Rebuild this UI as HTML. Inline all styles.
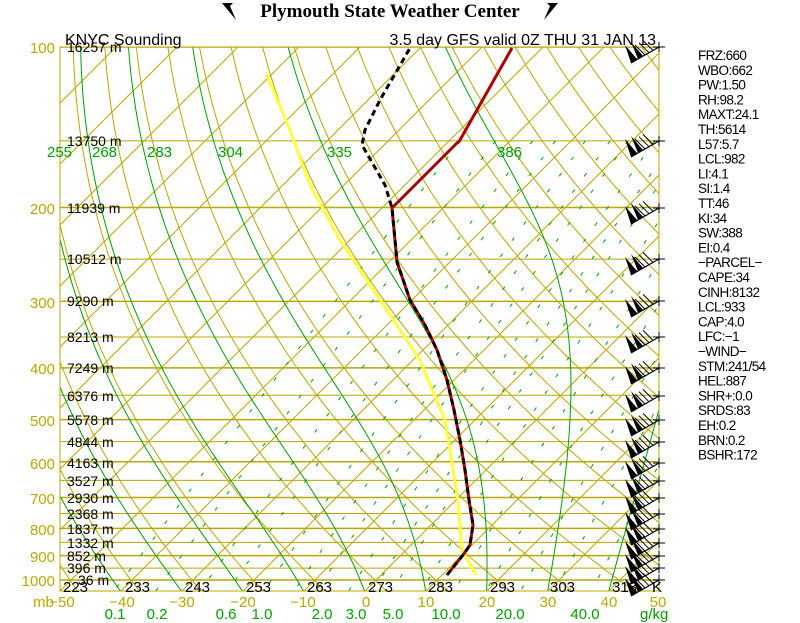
<!DOCTYPE html>
<html><head><meta charset="utf-8"><style>
html,body{margin:0;padding:0;background:#fff;width:800px;height:623px;overflow:hidden}
svg{display:block}
text{font-family:"Liberation Sans",sans-serif}
text.t{font-family:"Liberation Serif",serif;font-weight:bold}
</style></head><body>
<svg id="s" width="800" height="623" viewBox="0 0 800 623" xmlns="http://www.w3.org/2000/svg">
<defs><clipPath id="c"><rect x="60" y="47" width="599" height="544"/></clipPath></defs>
<g id="grid" clip-path="url(#c)"></g>
<rect x="60" y="47" width="599" height="544" fill="none" stroke="#b8a800" stroke-width="1"/>
<g id="snd" clip-path="url(#c)" fill="none" stroke-linejoin="round">
<polyline stroke="#ffff40" stroke-width="3" points="266,73 290,130 310,185 340,240 380,300 420,360 445,420 458,500 462,550 476,575"/>
<polyline stroke="#aa0000" stroke-width="3" points="447,575 463,555 470,545 473,525 469,500 465,470 460,440 454,410 447,380 437,350 425,325 410,300 397,262 392,208 460,140 512,48"/>
<polyline stroke="#000" stroke-width="3" stroke-dasharray="6,4" points="447,575 463,555 470,545 473,525 469,500 465,470 460,440 454,410 447,380 437,350 425,325 410,300 397,262 392,208 385,185 362,145 365,130 380,100 410,48"/>
</g>
<g id="barbs"></g>
<g id="lbl"></g>
<text class="t" x="390" y="17" text-anchor="middle" font-size="19">Plymouth State Weather Center</text>
<path d="M222,3 l11,0 l-3,3 l6,14 z" fill="#000"/>
<path d="M558,3 l-11,0 l3,3 l-6,14 z" fill="#000"/>
<text x="65" y="45" font-size="16">KNYC Sounding</text>
<text x="656" y="45" font-size="16" text-anchor="end">3.5 day GFS valid 0Z THU 31 JAN 13</text>
</svg>
<script>
var g=document.getElementById('grid'),L=document.getElementById('lbl'),B=document.getElementById('barbs');
var NS='http://www.w3.org/2000/svg';
function el(p,t,a,txt){var e=document.createElementNS(NS,t);for(var k in a)e.setAttribute(k,a[k]);if(txt!=null)e.textContent=txt;p.appendChild(e);return e;}
function Y(p){return 47+231.5*Math.log(p/100);}
function X(T,p){return 60+6.1*(T+50)+(591-Y(p));}
var OL='#b8a800',GR='#00a000';
for(var p=100;p<=1050;p+=50){var y=Y(p);el(g,'line',{x1:60,x2:659,y1:y,y2:y,stroke:OL,'stroke-width':(p%100==0?1.5:1)});}
for(var T=-150;T<=50;T+=10){el(g,'line',{x1:X(T,1050),y1:Y(1050),x2:X(T,100),y2:Y(100),stroke:OL,'stroke-width':1});}
function pts(f){var s='';for(var p=100;p<=1060;p+=10){var T=f(p);s+=X(T,p).toFixed(1)+','+Y(p).toFixed(1)+' ';}return s;}
for(var th=203;th<=453;th+=10){(function(th){el(g,'polyline',{points:pts(function(p){return th*Math.pow(p/1000,0.286)-273.15;}),fill:'none',stroke:OL,'stroke-width':1});})(th);}
function es(T){return 6.112*Math.exp(17.67*T/(T+243.5));}
function ws(T,p){var e=es(T);return 622*e/(p-e);}
for(var T0=-40;T0<=40;T0+=10){var T=T0,s='';var arr=[];for(var p=1050;p>=100;p-=5){arr.push([p,T]);
 var Tk=T+273.15,w=ws(T,p)/1000,Lv=2.5e6,Rd=287,cp=1005,eps=0.622;
 var dTdp=(Rd*Tk+Lv*w)/(p*(cp+Lv*Lv*w*eps/(Rd*Tk*Tk)));T-=dTdp*5;}
 arr.forEach(function(a){s+=X(a[1],a[0]).toFixed(1)+','+Y(a[0]).toFixed(1)+' ';});
 el(g,'polyline',{points:s,fill:'none',stroke:GR,'stroke-width':1});}
function Tw(w,p){var lo=-90,hi=60;for(var i=0;i<40;i++){var m=(lo+hi)/2;if(ws(m,p)<w)lo=m;else hi=m;}return lo;}
[0.1,0.2,0.4,0.6,1,1.5,2,3,4,5,7,10,14,20,28,40].forEach(function(w){var s='';for(var p=150;p<=1050;p+=10){s+=X(Tw(w,p),p).toFixed(1)+','+Y(p).toFixed(1)+' ';}
 el(g,'polyline',{points:s,fill:'none',stroke:GR,'stroke-width':1,'stroke-dasharray':'4,16'});});
[[100,47],[200,208],[300,302],[400,368],[500,420],[600,463],[700,498],[800,529],[900,556],[1000,580]].forEach(function(a){el(L,'text',{x:55,y:a[1]+6,'text-anchor':'end',fill:OL,'font-size':15},a[0]);});
[['16257',47],['13750',141],['11939',208],['10512',259],['9290',301],['8213',337],['7249',368],['6376',396],['5578',420],['4844',442],['4163',463],['3527',481],['2930',498],['2368',514],['1837',529],['1332',543],['852',556],['396',568],['36',580]].forEach(function(a){el(L,'text',{x:a[0]=='36'?78:67,y:a[1]+5,'font-size':14},a[0]+' m');});
[[63,'223'],[125,'233'],[185,'243'],[246,'253'],[307,'263'],[368,'273'],[428,'283'],[490,'293'],[550,'303'],[612,'313']].forEach(function(a){el(L,'text',{x:a[0],y:592,'font-size':15},a[1]);});
el(L,'text',{x:652,y:592,'font-size':15},'K');
el(L,'text',{x:33,y:607,fill:OL,'font-size':15},'mb');
[[62,'-50'],[122,'-40'],[182,'-30'],[243,'-20'],[303,'-10'],[366,'0'],[426,'10'],[487,'20'],[548,'30'],[609,'40'],[658,'50']].forEach(function(a){el(L,'text',{x:a[0],y:607,fill:OL,'font-size':15,'text-anchor':'middle'},a[1].replace('-','\u2212'));});
[[115,'0.1'],[157,'0.2'],[226,'0.6'],[262,'1.0'],[322,'2.0'],[356,'3.0'],[393,'5.0'],[446,'10.0'],[510,'20.0'],[585,'40.0']].forEach(function(a){el(L,'text',{x:a[0],y:619,fill:GR,'font-size':15,'text-anchor':'middle'},a[1]);});
el(L,'text',{x:640,y:619,fill:GR,'font-size':15},'g/kg');
[[47,'255'],[92,'268'],[147,'283'],[218,'304'],[327,'335'],[497,'386']].forEach(function(a){el(L,'text',{x:a[0],y:157,fill:GR,'font-size':15},a[1]);});
['FRZ:660','WBO:662','PW:1.50','RH:98.2','MAXT:24.1','TH:5614','L57:5.7','LCL:982','LI:4.1','SI:1.4','TT:46','KI:34','SW:388','EI:0.4','\u2212PARCEL\u2212','CAPE:34','CINH:8132','LCL:933','CAP:4.0','LFC:\u22121','\u2212WIND\u2212','STM:241/54','HEL:887','SHR+:0.0','SRDS:83','EH:0.2','BRN:0.2','BSHR:172'].forEach(function(t,i){el(L,'text',{x:698,y:60+i*14.8,'font-size':13.5,'letter-spacing':'-0.6'},t);});
[47,141,208,259,301,337,368,396,420,442,463,481,498,514,529,543,556,568,580].forEach(function(y){
 el(B,'line',{x1:653,x2:665,y1:y,y2:y,stroke:'#000'});el(B,'line',{x1:659,x2:659,y1:y-5,y2:y+5,stroke:'#000'});
 el(B,'line',{x1:659,y1:y,x2:631,y2:y+16,stroke:'#000','stroke-width':1.2});
 el(B,'path',{d:'M631,'+(y+16)+' l6,-4 l-12,-14 z',fill:'#000'});
 el(B,'path',{d:'M638,'+(y+12)+' l5,-3 l-12,-14 z',fill:'#000'});
 for(var k=0;k<3;k++){var bx=645+k*4,by=y+8-k*2.3;el(B,'line',{x1:bx,y1:by,x2:bx-10,y2:by-10,stroke:'#000'});}
});
</script>
</body></html>
